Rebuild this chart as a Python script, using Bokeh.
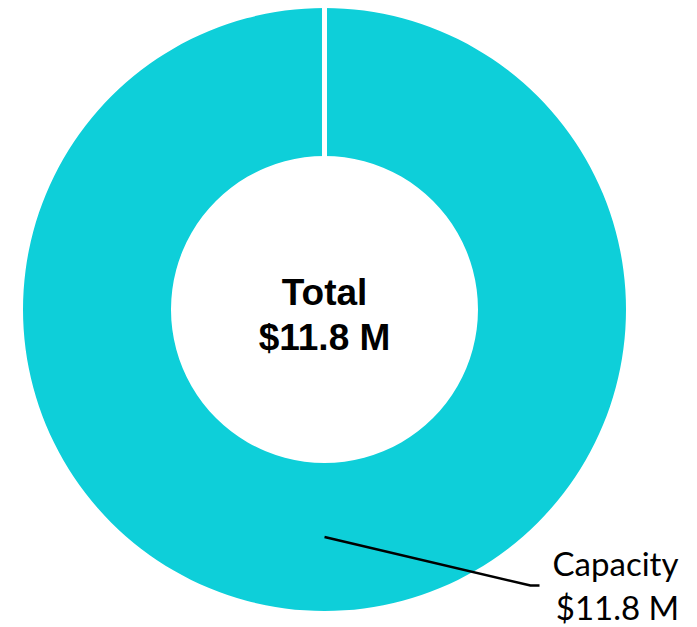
import numpy as np
from bokeh.plotting import figure
from bokeh.models import Range1d, ColumnDataSource
from bokeh.core.properties import value
from bokeh.embed import file_html
from bokeh.resources import INLINE

# data
categories = ["Capacity"]
values = [11.8]
value_labels = ["$11.8 M"]
total_label = "Total"
total_value_label = "$11.8 M"
colors = ["#0ECFD9"]

W, H = 697, 627
p = figure(width=W, height=H, output_backend="svg", toolbar_location=None,
           x_range=Range1d(0, W), y_range=Range1d(0, H), min_border=0)
p.axis.visible = False
p.grid.visible = False
p.outline_line_color = None
p.background_fill_color = "white"

cx, cy = 324, H - 309
r_in, r_out = 153.5, 301.5

vals = np.array(values, dtype=float)
frac = vals / vals.sum()
cum = np.concatenate([[0], np.cumsum(frac)])
start = np.pi / 2 - 2 * np.pi * cum[:-1]
end = np.pi / 2 - 2 * np.pi * cum[1:]
end = np.where(np.abs(start - end) >= 2 * np.pi, end + 1e-4, end)

src = ColumnDataSource(dict(start=start, end=end, color=colors[:len(values)]))
p.annular_wedge(x=cx, y=cy, inner_radius=r_in, outer_radius=r_out,
                start_angle="start", end_angle="end", direction="clock",
                fill_color="color", line_color=None, source=src)

for a in start:
    p.segment(x0=cx + (r_in - 2) * np.cos(a), y0=cy + (r_in - 2) * np.sin(a),
              x1=cx + (r_out + 10) * np.cos(a), y1=cy + (r_out + 10) * np.sin(a),
              line_color="white", line_width=5)

dy = 13  # baseline correction
mid = (start + end) / 2
rm = (r_in + r_out) / 2
for i, a in enumerate(mid):
    x0 = cx + rm * np.cos(a)
    y0 = cy + rm * np.sin(a)
    xe, ye = 530, H - 585
    p.line(x=[x0, xe, xe + 9], y=[y0, ye, ye], line_color="black", line_width=2.5)
    p.text(x=[615], y=[H - 575 + dy], text=[categories[i]], text_align="center",
           text_baseline="alphabetic", text_font=value("Lato"),
           text_font_size="33px", text_color="black")
    p.text(x=[617], y=[H - 619 + dy], text=[value_labels[i]], text_align="center",
           text_baseline="alphabetic", text_font=value("Lato"),
           text_font_size="33px", text_color="black")

p.text(x=[cx], y=[H - 305 + dy], text=[total_label], text_align="center",
       text_baseline="alphabetic", text_font=value("Liberation Sans"),
       text_font_style="bold", text_font_size="37px", text_color="black")
p.text(x=[cx], y=[H - 350 + dy], text=[total_value_label], text_align="center",
       text_baseline="alphabetic", text_font=value("Liberation Sans"),
       text_font_style="bold", text_font_size="37px", text_color="black")

open("out.html", "w").write(file_html(p, INLINE))
